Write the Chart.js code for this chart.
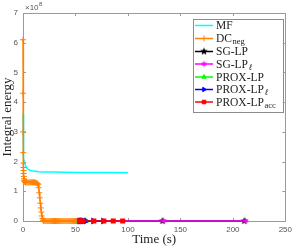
<!DOCTYPE html>
<html lang="en">
<head>
<meta charset="UTF-8"/>
<title>Integral energy vs time</title>
<style>
    html, body {
        margin: 0;
        background: #fff;
        overflow: hidden;
    }
</style>
</head>
<body>
<canvas id="energyChart" width="296" height="248"></canvas>

<script src="https://cdn.jsdelivr.net/npm/chart.js"></script>
<script>
// values are in units of 1e8 (axis shows x10^8)
const xTicks = [0, 50, 100, 150, 200, 250];
const yTicks = [0, 1, 2, 3, 4, 5, 6, 7];

const timeMF   = [0, 0.3, 0.7, 1.3, 2, 3, 4, 5, 7, 10, 15, 20, 30, 40, 60, 80, 100];
const energyMF = [3.6, 2.4, 2.1, 2.0, 1.9, 1.82, 1.77, 1.74, 1.7, 1.68, 1.66, 1.65, 1.645, 1.64, 1.635, 1.63, 1.625];

const timeDC   = [0, 0.05, 0.1, 0.2, 0.3, 0.4, 0.5, 0.6, 0.8, 1.0, 1.2, 1.4, 1.7, 2.0, 2.5, 3, 4, 5, 6, 7, 8, 9, 10, 11, 12, 13, 14,
                  14.5, 15, 15.5, 16, 16.5, 17, 17.5, 18, 18.5, 19, 19.5,
                  20, 21, 22, 23, 24, 25, 26, 27, 28, 29, 30, 31, 32, 33, 34, 35, 36, 37, 38, 39, 40,
                  41, 42, 43, 44, 45, 46, 47, 48, 49, 50, 51, 52, 53, 54];
const energyDC = [6.1, 4.3, 3.0, 2.3, 1.95, 1.8, 1.7, 1.6, 1.5, 1.42, 1.37, 1.34, 1.32, 1.31, 1.3, 1.3, 1.3, 1.3, 1.3, 1.3, 1.3, 1.3, 1.3, 1.3, 1.29, 1.28, 1.26,
                  1.22, 1.12, 0.95, 0.78, 0.6, 0.44, 0.3, 0.17, 0.08, 0.03, 0.01,
                  0, 0, 0, 0, 0, 0, 0, 0, 0, 0, 0, 0, 0, 0, 0, 0, 0, 0, 0, 0, 0,
                  0, 0, 0, 0, 0, 0, 0, 0, 0, 0, 0, 0, 0, 0];

const timeSG    = [55, 133, 211];
const energySG  = [0, 0, 0];
const timeSGl   = [54, 134, 212];
const energySGl = [0, 0, 0];
const timePX    = [54, 56, 59.5];
const energyPX  = [0, 0, 0];
const timePXl   = [54, 55, 56.5, 58, 60, 67, 76.5];
const energyPXl = [0, 0, 0, 0, 0, 0, 0];
const timeAcc   = [54, 55.5, 57, 67.5, 77, 86, 95];
const energyAcc = [0, 0, 0, 0, 0, 0, 0];

const legendNames = [
    {main: 'MF'},
    {main: 'DC', sub: 'neg'},
    {main: 'SG-LP'},
    {main: 'SG-LP', sub: '\u2113', italic: true},
    {main: 'PROX-LP'},
    {main: 'PROX-LP', sub: '\u2113', italic: true},
    {main: 'PROX-LP', sub: 'acc'}
];

function pairs(xs, ys) {
    return xs.map((x, i) => ({x: x, y: ys[i]}));
}

// filled n-pointed star as a point image
function starImage(n, r, color) {
    const c = document.createElement('canvas');
    c.width = c.height = 2 * r + 2;
    const g = c.getContext('2d');
    g.translate(r + 1, r + 1);
    g.beginPath();
    for (let i = 0; i < 2 * n; i++) {
        const rad = i % 2 === 0 ? r : r * 0.45;
        const a = -Math.PI / 2 + i * Math.PI / n;
        g.lineTo(rad * Math.cos(a), rad * Math.sin(a));
    }
    g.closePath();
    g.fillStyle = color;
    g.fill();
    return c;
}

const blackStar = starImage(5, 4, '#000000');
const magentaHex = starImage(6, 3.5, '#ff00ff');

const datasets = [
    {data: pairs(timeMF, energyMF), borderColor: '#00ffff', pointRadius: 0, borderWidth: 1.5},
    {data: pairs(timeDC, energyDC), borderColor: '#ff8000', pointStyle: 'cross', pointRadius: 3,
     pointBorderColor: '#ff8000', pointBorderWidth: 1, borderWidth: 1.5},
    {data: pairs(timeSG, energySG), borderColor: '#000000', pointStyle: blackStar, borderWidth: 1.5},
    {data: pairs(timeSGl, energySGl), borderColor: '#ff00ff', pointStyle: magentaHex, borderWidth: 1.5},
    {data: pairs(timePX, energyPX), borderColor: '#00ff00', pointStyle: 'triangle', pointRadius: 2.5,
     pointBackgroundColor: '#00ff00', pointBorderColor: '#00ff00', borderWidth: 1.5},
    {data: pairs(timePXl, energyPXl), borderColor: '#0000ff', pointStyle: 'triangle', pointRotation: 90, pointRadius: 2.5,
     pointBackgroundColor: '#0000ff', pointBorderColor: '#0000ff', borderWidth: 1.5},
    {data: pairs(timeAcc, energyAcc), borderColor: '#ff0000', pointStyle: 'rect', pointRadius: 2.5,
     pointBackgroundColor: '#ff0000', pointBorderColor: '#ff0000', borderWidth: 1.5}
];
// later series are drawn on top, like the original plot
datasets.forEach((d, i) => { d.fill = false; d.tension = 0; d.clip = false; d.order = datasets.length - i; });

const axisColor = '#9a9a9a';

// box around the axes with inward ticks on all four sides
const framePlugin = {
    id: 'frame',
    beforeDatasetsDraw(chart) {
        const ctx = chart.ctx;
        const a = chart.chartArea;
        const xs = chart.scales.x, ys = chart.scales.y;
        ctx.save();
        ctx.strokeStyle = axisColor;
        ctx.lineWidth = 1;
        ctx.strokeRect(Math.round(a.left) + 0.5, Math.round(a.top) + 0.5,
                       Math.round(a.right - a.left), Math.round(a.bottom - a.top));
        ctx.beginPath();
        xTicks.forEach(v => {
            const px = Math.round(xs.getPixelForValue(v)) + 0.5;
            ctx.moveTo(px, a.bottom); ctx.lineTo(px, a.bottom - 3);
            ctx.moveTo(px, a.top); ctx.lineTo(px, a.top + 3);
        });
        yTicks.forEach(v => {
            const py = Math.round(ys.getPixelForValue(v)) + 0.5;
            ctx.moveTo(a.left, py); ctx.lineTo(a.left + 3, py);
            ctx.moveTo(a.right, py); ctx.lineTo(a.right - 3, py);
        });
        ctx.stroke();
        ctx.restore();
    },
    afterDraw(chart) {
        const ctx = chart.ctx;
        const a = chart.chartArea;
        ctx.save();
        // exponent label
        ctx.fillStyle = '#555';
        ctx.textBaseline = 'alphabetic';
        ctx.font = '8px "Liberation Sans", Arial, sans-serif';
        ctx.fillText('\u00d710', a.left + 2, 10);
        const w = ctx.measureText('\u00d710').width;
        ctx.font = '6px "Liberation Sans", Arial, sans-serif';
        ctx.fillText('8', a.left + 2 + w + 0.5, 6);

        // legend
        const bx = 193, by = 19, bw = 90, bh = 93;
        ctx.fillStyle = '#ffffff';
        ctx.fillRect(bx, by, bw, bh);
        ctx.strokeStyle = '#8c8c8c';
        ctx.lineWidth = 1;
        ctx.strokeRect(bx + 0.5, by + 0.5, bw, bh);
        const rowY = [25.5, 38.5, 51.5, 64, 77, 89.5, 102];
        legendNames.forEach((item, i) => {
            const ds = chart.data.datasets[i];
            const y = rowY[i];
            ctx.strokeStyle = ds.borderColor;
            ctx.lineWidth = 1.5;
            ctx.beginPath();
            ctx.moveTo(195, y); ctx.lineTo(213, y);
            ctx.stroke();
            if (ds.pointRadius !== 0) {
                ctx.fillStyle = ds.borderColor;
                ctx.strokeStyle = ds.borderColor;
                ctx.lineWidth = ds.pointBorderWidth || 1;
                Chart.helpers.drawPoint(ctx, {
                    pointStyle: ds.pointStyle,
                    radius: ds.pointRadius || 3,
                    rotation: ds.pointRotation || 0,
                    borderWidth: ds.pointBorderWidth || 1
                }, 204, y);
            }
            ctx.fillStyle = '#222';
            ctx.textBaseline = 'middle';
            ctx.font = '11.5px "Liberation Serif", "Times New Roman", serif';
            ctx.fillText(item.main, 216, y + 0.5);
            if (item.sub) {
                const mw = ctx.measureText(item.main).width;
                ctx.font = (item.italic ? 'italic ' : '') + '8.5px "Liberation Serif", "Times New Roman", serif';
                ctx.fillText(item.sub, 216 + mw + 0.5, y + 3.5);
            }
        });
        ctx.restore();
    }
};

const tickFont = {family: '"Liberation Sans", Arial, sans-serif', size: 8, weight: 'normal'};
const titleFont = {family: '"Liberation Serif", "Times New Roman", serif', size: 13, weight: 'normal'};

new Chart(document.getElementById('energyChart').getContext('2d'), {
    type: 'line',
    data: {datasets: datasets},
    options: {
        responsive: false,
        animation: false,
        layout: {padding: {left: 0, right: 9, top: 13, bottom: 0}},
        plugins: {
            legend: {display: false},
            tooltip: {enabled: false}
        },
        scales: {
            x: {
                type: 'linear',
                min: 0,
                max: 250,
                afterBuildTicks: s => { s.ticks = xTicks.map(v => ({value: v})); },
                afterFit: s => { s.height = 27; },
                grid: {display: false, drawTicks: false},
                border: {display: false},
                ticks: {font: tickFont, color: '#555', padding: 4, maxRotation: 0},
                title: {display: true, text: 'Time (s)', font: titleFont, color: '#222',
                        padding: {top: 0, bottom: 1}}
            },
            y: {
                type: 'linear',
                min: 0,
                max: 7,
                afterBuildTicks: s => { s.ticks = yTicks.map(v => ({value: v})); },
                afterFit: s => { s.width = 23; },
                grid: {display: false, drawTicks: false},
                border: {display: false},
                ticks: {font: tickFont, color: '#555', padding: 5},
                title: {display: true, text: 'Integral energy', font: titleFont, color: '#222',
                        padding: {top: 0, bottom: 0}}
            }
        }
    },
    plugins: [framePlugin]
});
</script>
</body>
</html>
